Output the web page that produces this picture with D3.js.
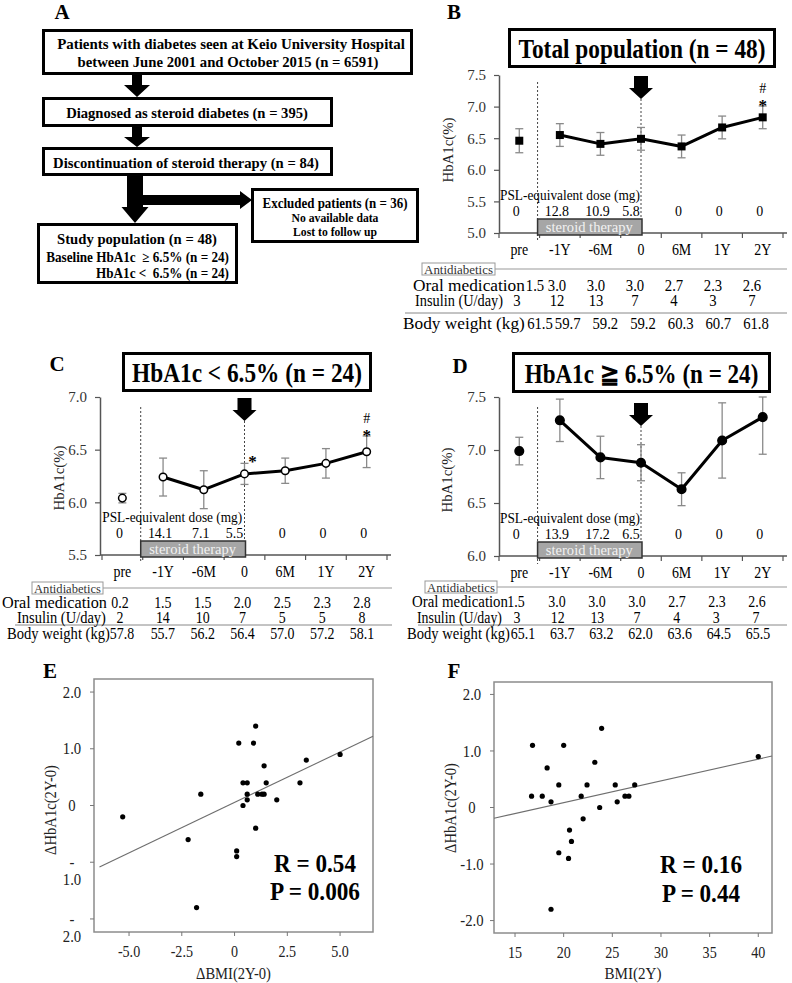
<!DOCTYPE html>
<html><head><meta charset="utf-8">
<script src="https://cdn.jsdelivr.net/npm/d3@7"></script>
<style>body{margin:0;background:#fff}svg{display:block}</style>
</head><body>
<script>
// ---------------- DATA ----------------
const categories = ["pre","-1Y","-6M","0","6M","1Y","2Y"];
const hbaB = [6.46,6.55,6.41,6.49,6.37,6.67,6.83];
const errB = [0.19,0.18,0.18,0.18,0.18,0.18,0.18];
const hbaC = [6.04,6.24,6.12,6.27,6.30,6.37,6.48];
const errC = [0.045,0.18,0.18,0.10,0.12,0.14,0.15];
const hbaD = [6.99,7.28,6.93,6.88,6.63,7.09,7.31];
const errD = [0.13,0.20,0.20,0.17,0.155,0.355,0.35];
const pslB = ["0","12.8","10.9","5.8","0","0","0"];
const pslC = ["0","14.1","7.1","5.5","0","0","0"];
const pslD = ["0","13.9","17.2","6.5","0","0","0"];
const oralB = ["1.5","3.0","3.0","3.0","2.7","2.3","2.6"];
const oralC = ["0.2","1.5","1.5","2.0","2.5","2.3","2.8"];
const oralD = ["1.5","3.0","3.0","3.0","2.7","2.3","2.6"];
const insulinB = ["3","12","13","7","4","3","7"];
const insulinC = ["2","14","10","7","5","5","8"];
const insulinD = ["3","12","13","7","4","3","7"];
const weightB = ["61.5","59.7","59.2","59.2","60.3","60.7","61.8"];
const weightC = ["57.8","55.7","56.2","56.4","57.0","57.2","58.1"];
const weightD = ["65.1","63.7","63.2","62.0","63.6","64.5","65.5"];
const sigB = ["","","","","","","#*"];
const sigC = ["","","","*","","","#*"];
const sigD = ["","","","","","",""];
const yTicksB = [5.0,5.5,6.0,6.5,7.0,7.5];
const yTicksC = [5.5,6.0,6.5,7.0];
const yTicksD = [6.0,6.5,7.0,7.5];

const eDeltaBMI   = [-5.3,-2.2,-1.6,-1.8,0.1,0.1,0.2,0.4,0.4,0.6,0.6,0.6,0.9,1.0,1.0,1.1,1.3,1.4,1.4,1.5,2.0,3.1,3.4,5.0];
const eDeltaHbA1c = [-0.2,-0.6,0.2,-1.8,-0.8,-0.9,1.1,0.4,0.0,0.4,0.2,0.1,1.1,1.4,-0.4,0.2,0.2,0.2,0.7,0.4,0.1,0.4,0.8,0.9];
const fBMI        = [16.8,16.7,17.8,18.3,18.7,18.7,19.5,19.5,20.0,20.5,20.6,20.8,21.8,22.0,22.4,23.2,23.7,23.9,25.3,25.5,26.3,26.7,27.3,40.0];
const fDeltaHbA1c = [1.1,0.2,0.2,0.7,0.1,-1.8,0.4,-0.8,1.1,-0.9,-0.4,-0.6,0.2,-0.2,0.4,0.8,0.0,1.4,0.4,0.1,0.2,0.2,0.4,0.9];
const fitE = [0.053, 0.178];   // intercept, slope
const fitF = [-0.684, 0.0385];
const eXTicks = [-5,-2.5,0,2.5,5];
const eXTickLabels = ["-5.0","-2.5","0","2.5","5.0"];
const eYTicks = [2,1,0,-1,-2];
const eYTickLabels = ["2.0","1.0","0","-\n1.0","-\n2.0"];
const fXTicks = [15,20,25,30,35,40];
const fYTicks = [2,1,0,-1,-2];
const fYTickLabels = ["2.0","1.0","0","-1.0","-2.0"];

// ---------------- SETUP ----------------
const W=792,H=983;
const SERIF="'Liberation Serif','Times New Roman',Times,serif";
const svg=d3.select("body").append("svg").attr("width",W).attr("height",H);
svg.append("rect").attr("width",W).attr("height",H).attr("fill","#fff");

// text helper; o.w = target rendered width (horizontal squeeze like the source figure)
function txt(g,x,y,s,o={}){
  const t=g.append("text").attr("text-anchor",o.anchor||"middle")
    .attr("dy",o.dy??"0.35em").attr("font-family",SERIF).attr("font-size",o.size||15)
    .attr("font-weight",o.bold?"bold":"normal").attr("fill",o.fill||"#000").text(s);
  let sx=o.sx??1;
  if(o.w){const len=t.node().getComputedTextLength(); if(len>0) sx=o.w/len;}
  let tr=`translate(${x},${y})`;
  if(o.rot) tr+=` rotate(${o.rot})`;
  if(sx!==1) tr+=` scale(${sx.toFixed(4)},1)`;
  t.attr("transform",tr);
  return t;
}
function poly(g,pts){g.append("polygon").attr("points",pts.map(p=>p.join(",")).join(" ")).attr("fill","#000");}
function downArrow(g,cx,y0,y1,sw,hw,hh){
  poly(g,[[cx-sw/2,y0],[cx+sw/2,y0],[cx+sw/2,y1-hh],[cx+hw/2,y1-hh],[cx,y1],[cx-hw/2,y1-hh],[cx-sw/2,y1-hh]]);
}
function rightArrow(g,cy,x0,x1,sw,hw,hh){
  poly(g,[[x0,cy-sw/2],[x1-hh,cy-sw/2],[x1-hh,cy-hw/2],[x1,cy],[x1-hh,cy+hw/2],[x1-hh,cy+sw/2],[x0,cy+sw/2]]);
}

// panel letters
const gL=svg.append("g");
[["A",62,19],["B",454,19],["C",57,371],["D",460,373],["E",50,678],["F",454,678]]
  .forEach(([s,x,y])=>txt(gL,x,y,s,{size:21,bold:true,dy:0}));

// ---------------- PANEL A ----------------
const gA=svg.append("g");
function boxA(x0,y0,x1,y1){gA.append("rect").attr("x",x0).attr("y",y0).attr("width",x1-x0).attr("height",y1-y0)
  .attr("fill","#fff").attr("stroke","#000").attr("stroke-width",3);}
boxA(43.5,30.5,411.5,73.5);
boxA(43.5,98.5,331.5,125.5);
boxA(43.5,148.5,331.5,174.5);
boxA(252.5,189.5,417.5,241.5);
boxA(38.5,224.5,236.5,282.5);
downArrow(gA,137,75,97,10,26,12);
downArrow(gA,137,127,147,10,26,10);
downArrow(gA,135,176,223,16,27,16);
rightArrow(gA,200,143,252,10,18,12);
txt(gA,231,44,"Patients with diabetes seen at Keio University Hospital",{size:15,bold:true,w:348});
txt(gA,228,62,"between June 2001 and October 2015 (n = 6591)",{size:15,bold:true,w:301});
txt(gA,187,113,"Diagnosed as steroid diabetes (n = 395)",{size:15,bold:true,w:242});
txt(gA,186,163,"Discontinuation of steroid therapy (n = 84)",{size:15,bold:true,w:266});
txt(gA,335,203,"Excluded patients (n = 36)",{size:14,bold:true,w:145});
txt(gA,335,218,"No available data",{size:12,bold:true,w:87});
txt(gA,335,232,"Lost to follow up",{size:12,bold:true,w:84});
txt(gA,137,239,"Study population (n = 48)",{size:15,bold:true,w:160});
txt(gA,229,257,"Baseline HbA1c\u00a0\u00a0\u2265 6.5% (n = 24)",{size:14,bold:true,anchor:"end",w:183});
txt(gA,229,273,"HbA1c <\u00a0\u00a06.5% (n = 24)",{size:14,bold:true,anchor:"end",w:133});

// ---------------- TIMELINE PANELS ----------------
function timeline(c){
  const g=svg.append("g");
  const x=d3.scaleBand().domain(categories).range(c.xRange).paddingInner(0).paddingOuter(0);
  const cx=k=>x(k)+x.bandwidth()/2;
  const y=d3.scaleLinear().domain(c.yDom).range(c.yRange);
  const ax=c.yRange[0];
  const tb=c.titleBox;
  // title
  g.append("rect").attr("x",tb[0]+1.5).attr("y",tb[1]+1.5).attr("width",tb[2]-tb[0]-3).attr("height",tb[3]-tb[1]-3)
    .attr("fill","#fff").attr("stroke","#000").attr("stroke-width",3);
  txt(g,(tb[0]+tb[2])/2,(tb[1]+tb[3])/2+1,c.title,{size:27,bold:true,w:c.titleW});
  // y axis
  const ya=g.append("g").attr("transform",`translate(${c.axisX},0)`)
    .call(d3.axisLeft(y).tickValues(c.yTicks).tickFormat(d3.format(".1f")).tickSize(5).tickSizeOuter(0).tickPadding(8));
  ya.select(".domain").attr("stroke","#555").attr("stroke-width",1.5);
  ya.selectAll(".tick line").attr("stroke","#555").attr("stroke-width",1.2);
  ya.selectAll(".tick text").attr("font-family",SERIF).attr("font-size",15).attr("fill","#333");
  txt(g,c.yLabel[0],c.yLabel[1],"HbA1c(%)",{size:15,rot:-90,fill:"#222",w:65});
  // dashed lines
  const dashX=x(categories[1])-2;
  const x0=cx("0");
  g.append("line").attr("x1",dashX).attr("x2",dashX).attr("y1",c.dashTop).attr("y2",ax+8)
    .attr("stroke","#444").attr("stroke-width",1).attr("stroke-dasharray","2,2");
  const arTop=tb[3]+c.arrowGap, arTip=arTop+23;
  g.append("line").attr("x1",x0).attr("x2",x0).attr("y1",arTip).attr("y2",ax+2)
    .attr("stroke","#444").attr("stroke-width",1).attr("stroke-dasharray","2,2");
  downArrow(g,x0,arTop,arTip,14,24,11);
  // PSL dose
  txt(g,(c.axisX+x0)/2,ax-38,"PSL-equivalent dose (mg)",{size:15,w:140});
  categories.forEach((k,i)=>txt(g,cx(k)-(k==="0"?10:3),ax-22,c.psl[i],{size:15,sx:0.93}));
  // x axis
  g.append("line").attr("x1",c.axisX).attr("x2",c.xRange[1]+4).attr("y1",ax).attr("y2",ax)
    .attr("stroke","#555").attr("stroke-width",1.5);
  const bounds=categories.map(k=>x(k)).concat([c.xRange[1]]);
  g.selectAll(null).data(bounds).join("line").attr("x1",d=>d).attr("x2",d=>d).attr("y1",ax).attr("y2",ax+5)
    .attr("stroke","#555").attr("stroke-width",1.2);
  // steroid therapy box
  g.append("rect").attr("x",dashX).attr("y",ax-14).attr("width",x0-dashX+1).attr("height",16)
    .attr("fill","#a6a6a6").attr("stroke","#333").attr("stroke-width",1.5);
  txt(g,(dashX+x0)/2,ax-6,"steroid therapy",{size:15,fill:"#f2f2f2",w:87});
  // category labels
  const xa=g.append("g").attr("transform",`translate(0,${ax})`)
    .call(d3.axisBottom(x).tickSize(0).tickPadding(11));
  xa.select(".domain").remove();
  xa.selectAll(".tick text").attr("font-family",SERIF).attr("font-size",16).attr("fill","#000")
    .attr("transform","scale(0.87,1)");
  // error bars
  const eb=g.append("g").attr("stroke","#8a8a8a").attr("stroke-width",1.3);
  categories.forEach((k,i)=>{
    const top=y(Math.min(c.vals[i]+c.errs[i],c.yDom[1])), bot=y(c.vals[i]-c.errs[i]), xx=cx(k);
    eb.append("line").attr("x1",xx).attr("x2",xx).attr("y1",top).attr("y2",bot);
    eb.append("line").attr("x1",xx-4).attr("x2",xx+4).attr("y1",top).attr("y2",top);
    eb.append("line").attr("x1",xx-4).attr("x2",xx+4).attr("y1",bot).attr("y2",bot);
  });
  // line (pre not connected)
  const idx=d3.range(1,categories.length);
  g.append("path").attr("d",d3.line().x(i=>cx(categories[i])).y(i=>y(c.vals[i]))(idx))
    .attr("fill","none").attr("stroke","#000").attr("stroke-width",3).attr("stroke-linejoin","round");
  // markers
  categories.forEach((k,i)=>{
    if(c.marker==="square"){
      g.append("rect").attr("x",cx(k)-4).attr("y",y(c.vals[i])-4).attr("width",8).attr("height",8).attr("fill","#000");
    } else {
      g.append("circle").attr("cx",cx(k)).attr("cy",y(c.vals[i])).attr("r",c.marker==="open"?3.8:4.3)
        .attr("fill",c.marker==="open"?"#fff":"#000").attr("stroke","#000").attr("stroke-width",1.5);
    }
  });
  // significance marks
  categories.forEach((k,i)=>{
    const s=c.sig[i]; if(!s) return;
    const top=y(c.vals[i]+c.errs[i]);
    if(s==="#*"){
      txt(g,cx(k),top-18,"#",{size:14});
      txt(g,cx(k),top-6,"*",{size:17,bold:true,dy:"0.62em"});
    } else {
      txt(g,cx(k)+8,top-7,"*",{size:17,bold:true,dy:"0.62em"});
    }
  });
  // table
  const r=c.rows;
  g.append("rect").attr("x",c.anti[0]).attr("y",r.anti-6).attr("width",c.anti[1]-c.anti[0]).attr("height",12)
    .attr("fill","#fff").attr("stroke","#999").attr("stroke-width",1);
  txt(g,(c.anti[0]+c.anti[1])/2,r.anti,"Antidiabetics",{size:13,fill:"#333",w:c.anti[1]-c.anti[0]-4});
  g.append("line").attr("x1",c.anti[1]).attr("x2",c.lineX[1]).attr("y1",r.anti).attr("y2",r.anti)
    .attr("stroke","#999").attr("stroke-width",1);
  g.append("line").attr("x1",c.lineX[0]).attr("x2",c.lineX[1]).attr("y1",r.line).attr("y2",r.line)
    .attr("stroke","#888").attr("stroke-width",1);
  const rows=[["oral","Oral medication",c.oral],["ins","Insulin (U/day)",c.ins],["bw","Body weight (kg)",c.bw]];
  rows.forEach(([key,label,vals])=>{
    const colX=d3.scalePoint().domain(categories).range(c.tableRange[key]);
    txt(g,c.labelX[key],r[key],label,{size:16,anchor:"start",w:c.labelW[key]});
    categories.forEach((k,i)=>{
      const xx=i===0?c.preX[key]:colX(k);
      txt(g,xx,r[key],vals[i],{size:16,sx:c.valSx});
    });
  });
}

timeline({title:"Total population (n = 48)",titleW:247,titleBox:[508,28,776,68],vals:hbaB,errs:errB,psl:pslB,
  oral:oralB,ins:insulinB,bw:weightB,sig:sigB,yDom:[5.0,7.5],yTicks:yTicksB,marker:"square",
  axisX:499,xRange:[499,783],yRange:[233,75],dashTop:82,arrowGap:8,yLabel:[448,150],
  rows:{anti:269,oral:285,ins:300,line:313,bw:323},labelX:{oral:413,ins:415,bw:403},labelW:{oral:112,ins:88,bw:122},valSx:0.92,
  tableRange:{oral:[518,752],ins:[518,752],bw:[530,756]},preX:{oral:535,ins:517,bw:540},anti:[422,495],lineX:[405,787]});

timeline({title:"HbA1c < 6.5% (n = 24)",titleW:230,titleBox:[122,352,372,392],vals:hbaC,errs:errC,psl:pslC,
  oral:oralC,ins:insulinC,bw:weightC,sig:sigC,yDom:[5.5,7.0],yTicks:yTicksC,marker:"open",
  axisX:100,xRange:[102,387],yRange:[555,397],dashTop:407,arrowGap:6,yLabel:[59,478],
  rows:{anti:588,oral:602,ins:617,line:625,bw:633},labelX:{oral:2,ins:17,bw:7},labelW:{oral:105,ins:89,bw:103},valSx:0.87,
  tableRange:{oral:[123,362],ins:[123,362],bw:[123,362]},preX:{oral:120,ins:120,bw:122},anti:[32,103],lineX:[15,392]});

timeline({title:"HbA1c \u2267 6.5% (n = 24)",titleW:234,titleBox:[512,352,771,393],vals:hbaD,errs:errD,psl:pslD,
  oral:oralD,ins:insulinD,bw:weightD,sig:sigD,yDom:[6.0,7.5],yTicks:yTicksD,marker:"filled",
  axisX:499,xRange:[499,783],yRange:[556,397],dashTop:407,arrowGap:10,yLabel:[447,480],
  rows:{anti:587,oral:601,ins:617,line:625,bw:633},labelX:{oral:412,ins:417,bw:407},labelW:{oral:96,ins:85,bw:103},valSx:0.87,
  tableRange:{oral:[517,757],ins:[518,756],bw:[523,758]},preX:{oral:516,ins:517,bw:523},anti:[425,497],lineX:[418,787]});

// ---------------- SCATTER PANELS ----------------
function scatter(c){
  const g=svg.append("g");
  const [fx0,fy0,fx1,fy1]=c.frame;
  const x=d3.scaleLinear().domain(c.xDom).range([fx0,fx1]);
  const y=d3.scaleLinear().domain(c.yDom).range([fy1,fy0]);
  g.append("rect").attr("x",fx0).attr("y",fy0).attr("width",fx1-fx0).attr("height",fy1-fy0)
    .attr("fill","none").attr("stroke","#8c8c8c").attr("stroke-width",1.5);
  c.yTicks.forEach((t,i)=>{
    g.append("line").attr("x1",fx0-4).attr("x2",fx0).attr("y1",y(t)).attr("y2",y(t)).attr("stroke","#777");
    c.yTickLabels[i].split("\n").forEach((s,j)=>txt(g,fx0-22,y(t)+j*17,s,{size:16,sx:0.92,fill:"#222"}));
  });
  c.xTicks.forEach((t,i)=>{
    g.append("line").attr("x1",x(t)).attr("x2",x(t)).attr("y1",fy1).attr("y2",fy1+4).attr("stroke","#777");
    txt(g,x(t),fy1+19,c.xTickLabels[i],{size:16,sx:0.88,fill:"#222"});
  });
  txt(g,(fx0+fx1)/2,973,c.xLabel,{size:16,fill:"#222",w:c.xLabelW});
  txt(g,c.yLabelPos[0],c.yLabelPos[1],c.yLabel,{size:16,rot:-90,fill:"#222",w:90});
  const xa=c.fitFrom, xb=c.xDom[1];
  g.append("line").attr("x1",x(xa)).attr("x2",x(xb))
    .attr("y1",y(c.fit[0]+c.fit[1]*xa)).attr("y2",y(c.fit[0]+c.fit[1]*xb))
    .attr("stroke","#6e6e6e").attr("stroke-width",1.1);
  g.selectAll(null).data(c.xs.map((v,i)=>[v,c.ys[i]])).join("circle")
    .attr("cx",d=>x(d[0])).attr("cy",d=>y(d[1])).attr("r",2.6).attr("fill","#000");
  txt(g,c.statX,c.statY[0],c.R,{size:25,bold:true,dy:0,w:c.statW[0]});
  txt(g,c.statX,c.statY[1],c.P,{size:25,bold:true,dy:0,w:c.statW[1]});
}

scatter({frame:[94,679,373,932],xDom:[-6.66,6.56],yDom:[-2.23,2.23],xs:eDeltaBMI,ys:eDeltaHbA1c,
  xTicks:eXTicks,xTickLabels:eXTickLabels,yTicks:eYTicks,yTickLabels:eYTickLabels,
  xLabel:"\u0394BMI(2Y-0)",xLabelW:75,yLabel:"\u0394HbA1c(2Y-0)",yLabelPos:[50,810],fit:fitE,fitFrom:-6.4,
  R:"R = 0.54",P:"P = 0.006",statX:315,statY:[872,900],statW:[82,90]});

scatter({frame:[494,682,772,933],xDom:[12.84,41.41],yDom:[-2.22,2.22],xs:fBMI,ys:fDeltaHbA1c,
  xTicks:fXTicks,xTickLabels:fXTicks.map(String),yTicks:fYTicks,yTickLabels:fYTickLabels,
  xLabel:"BMI(2Y)",xLabelW:57,yLabel:"\u0394HbA1c(2Y-0)",yLabelPos:[450,808],fit:fitF,fitFrom:12.84,
  R:"R = 0.16",P:"P = 0.44",statX:701,statY:[873,902],statW:[82,78]});
</script>
</body></html>
